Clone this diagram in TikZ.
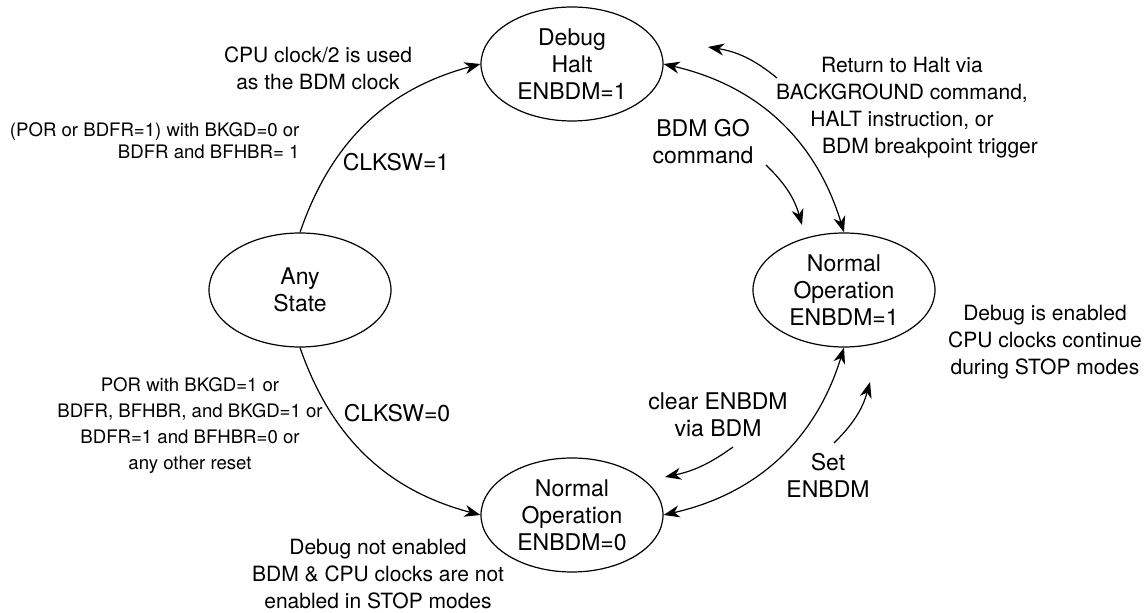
\documentclass[tikz,border=0pt]{standalone}
\usepackage{fontspec}
\setmainfont{TeX Gyre Heros}
\usetikzlibrary{arrows.meta,shapes.geometric}

\newcommand{\bigfont}{\fontsize{11.5}{13.5}\selectfont}
\newcommand{\midfont}{\fontsize{10.5}{13.5}\selectfont}
\newcommand{\smallfont}{\fontsize{9.3}{13}\selectfont}

\begin{document}
\begin{tikzpicture}[x=0.5pt, y=0.5pt, line width=0.6pt,
  state/.style={ellipse, draw, inner sep=0pt, minimum width=91pt,
    minimum height=57pt, align=center, font=\bigfont},
  lbl/.style={align=center, inner sep=0pt, font=\bigfont},
  note/.style={align=center, inner sep=0pt, font=\midfont},
  tip/.style={-{Stealth[length=8pt,width=6pt,inset=2.5pt]}},
  twotip/.style={{Stealth[length=8pt,width=6pt,inset=2.5pt]}-{Stealth[length=8pt,width=6pt,inset=2.5pt]}}]
\useasboundingbox (0,0) rectangle (1148,-613);

% states
  \node[state] (halt)  at (572,-64)  {Debug\\Halt\\ENBDM=1};
  \node[state] (any)   at (300,-290) {Any\\State};
  \node[state] (norm1) at (844,-290) {Normal\\Operation\\ENBDM=1};
  \node[state] (norm0) at (572,-515) {Normal\\Operation\\ENBDM=0};

% labels
  \node[lbl] (clk1) at (396,-162) {CLKSW=1};
  \node[lbl] (clk0) at (397,-413) {CLKSW=0};
  \node[lbl] (gotxt) at (703,-142) {BDM GO\\command};
  \node[lbl] (clrtxt) at (718,-415) {clear ENBDM\\via BDM};
  \node[lbl] (settxt) at (828,-475) {Set\\ENBDM};

% notes
  \node[note] (cputxt) at (318,-68) {CPU clock/2 is used\\as the BDM clock};
  \node[note] (rettxt) at (902,-108) {Return to Halt via\\BACKGROUND command,\\HALT instruction, or\\\hspace*{28pt}BDM breakpoint trigger};
  \node[note] (entxt) at (1045,-342) {Debug is enabled\\CPU clocks continue\\during STOP modes};
  \node[note] (dnetxt) at (378,-574) {Debug not enabled\\BDM \& CPU clocks are not\\enabled in STOP modes};
  \node[align=right, inner sep=0pt, font=\fontsize{9.3}{11}\selectfont, anchor=east] (portxt) at (300,-141)
    {(POR or BDFR=1) with BKGD=0 or\\BDFR and BFHBR= 1};
  \node[align=center, inner sep=0pt, font=\smallfont] (portxt2) at (190,-426)
    {POR with BKGD=1 or\\BDFR, BFHBR, and BKGD=1 or\\BDFR=1 and BFHBR=0 or\\any other reset};

% transitions
  \draw[tip] (any.north) to[bend left=28] (halt.west);
  \draw[tip] (any.south) to[bend right=28] (norm0.west);
  \draw[twotip] (halt.east) to[bend left=30] (norm1.north);
  \draw[twotip] (norm1.south) to[bend left=30] (norm0.east);

% side arrows
  \coordinate (ret1) at (777,-78);
  \coordinate (ret2) at (708,-47);
  \coordinate (go1) at (766,-165);
  \coordinate (go2) at (802,-225);
  \coordinate (clr1) at (733,-447);
  \coordinate (clr2) at (665,-477);
  \coordinate (set1) at (834,-443);
  \coordinate (set2) at (870,-382);
  \draw[tip] (ret1) to[bend right=15] (ret2);
  \draw[tip] (go1) to[bend left=15] (go2);
  \draw[tip] (clr1) to[bend left=12] (clr2);
  \draw[tip] (set1) to[bend right=15] (set2);
\end{tikzpicture}
\end{document}
